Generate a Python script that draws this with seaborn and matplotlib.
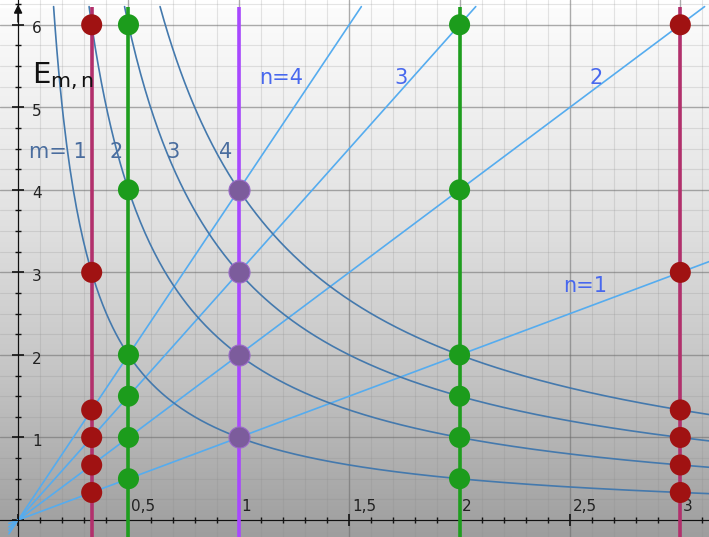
import numpy as np
import pandas as pd
import seaborn as sns
import matplotlib.pyplot as plt
from matplotlib.ticker import MultipleLocator
from matplotlib.colors import LinearSegmentedColormap

# parameters of the two families: E = n*x (lines) and E = m/x (hyperbolas)
n_values = [1, 2, 3, 4]
m_values = [1, 2, 3, 4]

# vertical lines and the dots on them
red_x = [1/3, 3]
red_dots = {1/3: [1/3, 2/3, 1, 4/3, 3, 6], 3: [1/3, 2/3, 1, 4/3, 3, 6]}
green_x = [0.5, 2]
green_dots = {0.5: [0.5, 1, 1.5, 2, 4, 6], 2: [0.5, 1, 1.5, 2, 4, 6]}
purple_x = [1]
purple_dots = {1: [1, 2, 3, 4]}

x_ticks = [0.5, 1, 1.5, 2, 2.5, 3]
x_tick_labels = ['0,5', '1', '1,5', '2', '2,5', '3']
y_ticks = [1, 2, 3, 4, 5, 6]
y_tick_labels = ['1', '2', '3', '4', '5', '6']

XMIN, XMAX = -0.082, 3.13
YMIN, YMAX = -0.206, 6.30
YTOP = 6.22

sns.set_style('white')
fig = plt.figure(figsize=(7.09, 5.37), dpi=100)
ax = fig.add_axes([0, 0, 1, 1])
ax.set_xlim(XMIN, XMAX)
ax.set_ylim(YMIN, YMAX)

# gradient background, white at top to gray at bottom
cmap = LinearSegmentedColormap.from_list(
    'bg', [(0.0, '#9e9e9e'), (0.3, '#c4c4c4'), (0.6, '#e2e2e2'), (1.0, '#fdfdfd')])
grad = np.linspace(0, 1, 256).reshape(-1, 1)
ax.imshow(grad, cmap=cmap, origin='lower', aspect='auto',
          extent=[XMIN, XMAX, YMIN, YMAX], zorder=0)
ax.fill_between([XMIN, XMAX], YTOP, YMAX, color='white', zorder=0.1)

# grid
ax.xaxis.set_major_locator(MultipleLocator(0.5))
ax.xaxis.set_minor_locator(MultipleLocator(0.1))
ax.yaxis.set_major_locator(MultipleLocator(1))
ax.yaxis.set_minor_locator(MultipleLocator(0.25))
ax.set_axisbelow(True)
ax.grid(which='major', color='#6a6a6a', alpha=0.55, linewidth=1.0)
ax.grid(which='minor', color='#8a8a8a', alpha=0.22, linewidth=0.8)

# straight lines E = n*x
for n in n_values:
    xs = np.linspace(XMIN + 0.04, min(XMAX, YTOP / n), 50)
    sns.lineplot(x=xs, y=n * xs, color='#55acef', linewidth=1.2, ax=ax,
                 estimator=None, sort=False, zorder=2)

# hyperbolas E = m/x
for m in m_values:
    xs = np.linspace(m / YTOP, XMAX, 400)
    sns.lineplot(x=xs, y=m / xs, color='#4479ad', linewidth=1.2, ax=ax,
                 estimator=None, sort=False, zorder=2)

# vertical lines
ax.vlines(red_x, YMIN, YTOP, color='#b2306c', linewidth=2.6, zorder=3)
ax.vlines(green_x, YMIN, YTOP, color='#1e9e1e', linewidth=2.6, zorder=3)
ax.vlines(purple_x, YMIN, YTOP, color='#a848ff', linewidth=2.6, zorder=3)

# dots
def dots(d):
    return pd.DataFrame([(x, y) for x, ys in d.items() for y in ys], columns=['x', 'y'])

sns.scatterplot(data=dots(red_dots), x='x', y='y', color='#a01212', s=230,
                edgecolor='none', ax=ax, zorder=4)
sns.scatterplot(data=dots(green_dots), x='x', y='y', color='#1c9c1c', s=230,
                edgecolor='none', ax=ax, zorder=4)
sns.scatterplot(data=dots(purple_dots), x='x', y='y', color='#7c5c9c', s=230,
                edgecolor='#9a6ac8', linewidth=0.8, ax=ax, zorder=4)

# axes through the origin
for side in ['top', 'right']:
    ax.spines[side].set_visible(False)
ax.spines['left'].set_position(('data', 0))
ax.spines['bottom'].set_position(('data', 0))
ax.spines['left'].set_color('#111111')
ax.spines['bottom'].set_color('#111111')
ax.spines['left'].set_zorder(2.5)
ax.spines['bottom'].set_zorder(2.5)
ax.tick_params(which='both', direction='inout', color='#111111',
               labelbottom=False, labelleft=False, bottom=True, left=True)
ax.tick_params(which='major', length=8, width=1.2)
ax.tick_params(which='minor', length=5, width=1.0)
ax.annotate('', xy=(0, YMAX - 0.02), xytext=(0, 6.0),
            arrowprops=dict(arrowstyle='-|>', color='#111111', lw=1.2,
                            mutation_scale=12), zorder=5)

# tick labels
for x, lab in zip(x_ticks, x_tick_labels):
    ax.text(x + 0.012, 0.16, lab, ha='left', va='center', fontsize=11, color='#222222')
for y, lab in zip(y_ticks, y_tick_labels):
    ax.text(0.063, y - 0.05, lab, ha='left', va='center', fontsize=11, color='#222222')

# annotations
ax.text(0.063, 5.38, r'$\mathregular{E_{m,n}}$', fontsize=21, color='#111111',
        ha='left', va='center', zorder=6)
m_col = '#4a6d9e'
ax.text(0.05, 4.46, 'm= 1', fontsize=15, color=m_col, ha='left', va='center', zorder=6)
ax.text(0.444, 4.46, '2', fontsize=15, color=m_col, ha='center', va='center', zorder=6)
ax.text(0.70, 4.46, '3', fontsize=15, color=m_col, ha='center', va='center', zorder=6)
ax.text(0.94, 4.46, '4', fontsize=15, color=m_col, ha='center', va='center', zorder=6)
n_col = '#4868ee'
ax.text(1.19, 5.36, 'n=4', fontsize=15, color=n_col, ha='center', va='center', zorder=6)
ax.text(1.735, 5.36, '3', fontsize=15, color=n_col, ha='center', va='center', zorder=6)
ax.text(2.62, 5.36, '2', fontsize=15, color=n_col, ha='center', va='center', zorder=6)
ax.text(2.57, 2.84, 'n=1', fontsize=15, color=n_col, ha='center', va='center', zorder=6)

ax.set_xlabel('')
ax.set_ylabel('')
fig.savefig('out.png', dpi=100)
